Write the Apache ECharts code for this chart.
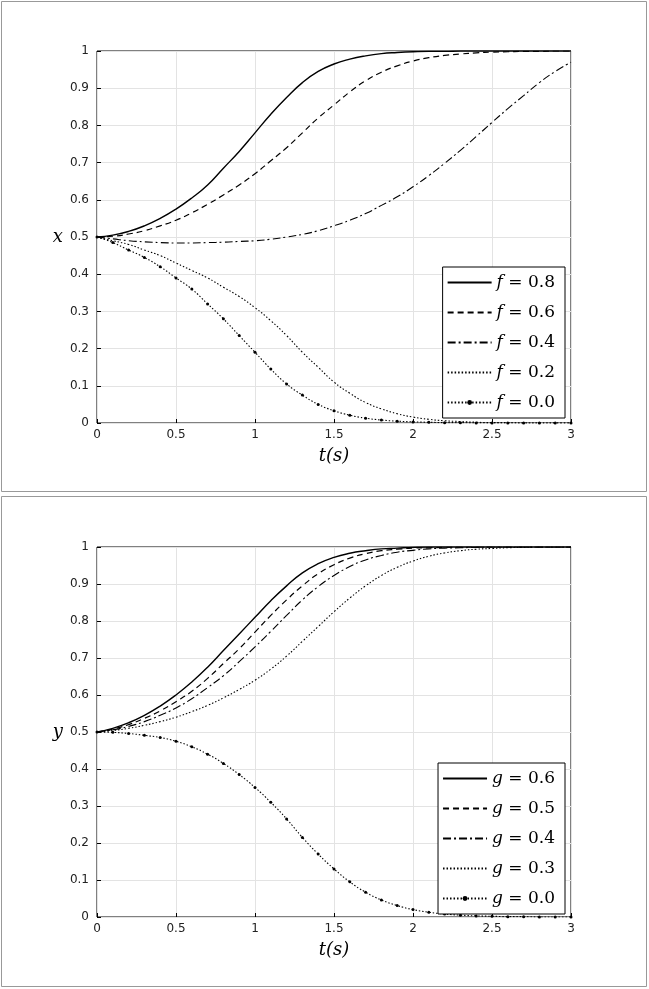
<!DOCTYPE html>
<html><head><meta charset="utf-8">
<script src="https://cdn.jsdelivr.net/npm/echarts@6/dist/echarts.min.js"></script>
<style>html,body{margin:0;padding:0;background:#fff}#chart{width:649px;height:989px}</style>
</head><body><div id="chart"></div>
<script>
// time axis, 0..3 s step 0.1
var t = [];
for (var i = 0; i <= 30; i++) t.push(+(i * 0.1).toFixed(1));

var xTicks = [0, 0.5, 1, 1.5, 2, 2.5, 3];
var yTicks = [0, 0.1, 0.2, 0.3, 0.4, 0.5, 0.6, 0.7, 0.8, 0.9, 1];

// top panel, x(t)
var fNames = ['0.8', '0.6', '0.4', '0.2', '0.0'];
var f08 = [.5,.505,.515,.53,.55,.575,.605,.64,.685,.73,.78,.83,.875,.915,.945,.965,.978,.987,.993,.996,.998,.999,.999,1,1,1,1,1,1,1,1];
var f06 = [.5,.502,.508,.517,.53,.545,.565,.588,.613,.64,.67,.705,.74,.78,.82,.855,.89,.92,.943,.96,.973,.982,.988,.992,.995,.997,.998,.999,.999,1,1];
var f04 = [.5,.495,.49,.487,.485,.484,.484,.485,.486,.488,.49,.494,.5,.507,.517,.53,.545,.563,.585,.608,.635,.665,.698,.733,.77,.808,.845,.88,.915,.945,.97];
var f02 = [.5,.49,.48,.465,.45,.43,.41,.39,.365,.34,.31,.275,.235,.19,.15,.11,.08,.055,.038,.025,.016,.01,.006,.004,.002,.001,.001,0,0,0,0];
var f00 = [.5,.485,.465,.445,.42,.39,.36,.32,.28,.235,.19,.145,.105,.075,.05,.033,.021,.013,.008,.005,.003,.002,.001,.001,0,0,0,0,0,0,0];

// bottom panel, y(t)
var gNames = ['0.6', '0.5', '0.4', '0.3', '0.0'];
var g06 = [.5,.51,.525,.545,.57,.6,.635,.675,.72,.765,.81,.855,.895,.93,.955,.972,.983,.99,.995,.997,.999,1,1,1,1,1,1,1,1,1,1];
var g05 = [.5,.508,.52,.537,.557,.582,.61,.645,.685,.725,.77,.815,.857,.895,.928,.952,.97,.982,.99,.994,.997,.998,.999,1,1,1,1,1,1,1,1];
var g04 = [.5,.506,.515,.528,.545,.565,.59,.62,.652,.69,.73,.772,.815,.857,.893,.923,.947,.965,.977,.986,.991,.995,.997,.998,.999,1,1,1,1,1,1];
var g03 = [.5,.504,.51,.518,.528,.54,.555,.572,.592,.615,.64,.67,.705,.745,.785,.825,.862,.895,.923,.945,.962,.975,.984,.99,.994,.996,.998,.999,1,1,1];
var g00 = [.5,.499,.496,.491,.485,.475,.46,.44,.415,.385,.35,.31,.265,.215,.17,.13,.095,.067,.046,.031,.02,.013,.008,.005,.003,.002,.001,.001,0,0,0];

var styles = [
  {type: 'solid', w: 1.4, sym: 'none'},
  {type: [6, 4], w: 1.2, sym: 'none'},
  {type: [8, 3, 2, 3], w: 1.1, sym: 'none'},
  {type: [1.5, 2], w: 1.1, sym: 'none'},
  {type: [1.5, 2], w: 1.1, sym: 'circle'}
];

function pairs(arr) { return arr.map(function (v, i) { return [t[i], v]; }); }

var series = [];
function addSeries(letter, names, datas, idx) {
  names.forEach(function (n, k) {
    var s = styles[k];
    series.push({
      name: letter + ' = ' + n, type: 'line', xAxisIndex: idx, yAxisIndex: idx,
      data: pairs(datas[k]), smooth: true, symbol: s.sym, symbolSize: 3,
      showSymbol: s.sym !== 'none', silent: true,
      lineStyle: {color: '#000', width: s.w, type: s.type},
      itemStyle: {color: '#000'}
    });
  });
}
addSeries('f', fNames, [f08, f06, f04, f02, f00], 0);
addSeries('g', gNames, [g06, g05, g04, g03, g00], 1);

var tickFont = {color: '#222', fontSize: 12, fontFamily: 'DejaVu Sans'};
var gridLine = {show: true, lineStyle: {color: '#e3e3e3', width: 1}};

function xAx(i) {
  return {type: 'value', gridIndex: i, min: 0, max: 3, interval: 0.5,
    axisLabel: Object.assign({margin: 6}, tickFont), axisLine: {show: false},
    axisTick: {inside: true, length: 4, lineStyle: {color: '#000'}}, splitLine: gridLine,
    name: 't(s)', nameLocation: 'middle', nameGap: 24,
    nameTextStyle: {fontFamily: 'DejaVu Serif', fontStyle: 'italic', fontSize: 18, color: '#000'}};
}
function yAx(i, nm) {
  return {type: 'value', gridIndex: i, min: 0, max: 1, interval: 0.1,
    axisLabel: Object.assign({margin: 8, formatter: function (v) { return String(+v.toFixed(1)); }}, tickFont),
    axisLine: {show: false},
    axisTick: {inside: true, length: 4, lineStyle: {color: '#000'}}, splitLine: gridLine,
    name: nm, nameLocation: 'middle', nameGap: 34, nameRotate: 0,
    nameTextStyle: {fontFamily: 'DejaVu Serif', fontStyle: 'italic', fontSize: 18, color: '#000'}};
}

function legend(letter, names, top) {
  return {
    data: names.map(function (n, k) {
      var item = {name: letter + ' = ' + n};
      if (styles[k].sym === 'none') item.itemStyle = {opacity: 0};
      return item;
    }),
    orient: 'vertical', right: 84, top: top, itemWidth: 44, itemHeight: 6, itemGap: 13,
    backgroundColor: '#fff', borderColor: '#000', borderWidth: 1, padding: [7, 10, 7, 4],
    selectedMode: false,
    formatter: function (name) {
      var p = name.split(' = ');
      return '{i|' + p[0] + '} = ' + p[1];
    },
    textStyle: {fontFamily: 'DejaVu Serif', fontSize: 17, color: '#000',
      rich: {i: {fontFamily: 'DejaVu Serif', fontStyle: 'italic', fontSize: 17}}}
  };
}

var chart = echarts.init(document.getElementById('chart'));
chart.setOption({
  backgroundColor: '#fff',
  animation: false,
  graphic: [
    {type: 'rect', shape: {x: 1.5, y: 1.5, width: 645, height: 490}, style: {fill: 'none', stroke: '#999', lineWidth: 1}},
    {type: 'rect', shape: {x: 1.5, y: 496.5, width: 645, height: 490}, style: {fill: 'none', stroke: '#999', lineWidth: 1}}
  ],
  grid: [
    {left: 97, top: 51, width: 474, height: 372, show: true, borderColor: '#000', borderWidth: 1},
    {left: 97, top: 547, width: 474, height: 370, show: true, borderColor: '#000', borderWidth: 1}
  ],
  xAxis: [xAx(0), xAx(1)],
  yAxis: [yAx(0, 'x'), yAx(1, 'y')],
  legend: [legend('f', fNames, 267), legend('g', gNames, 763)],
  series: series
});
</script></body></html>
